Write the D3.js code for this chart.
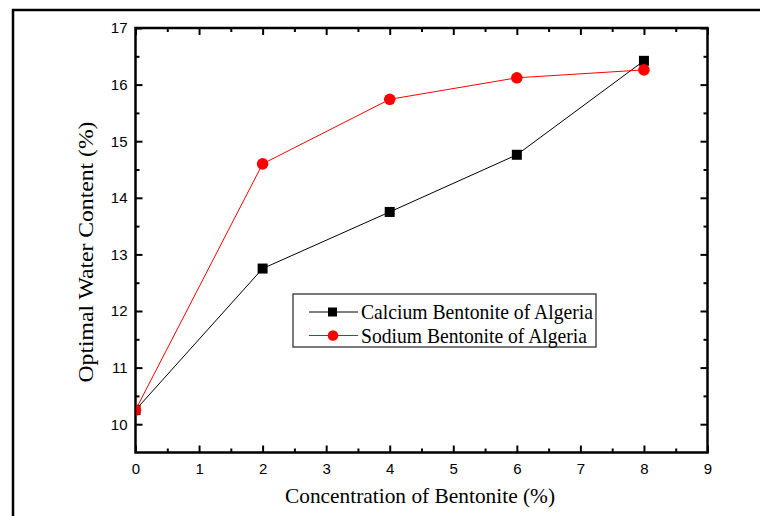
<!DOCTYPE html>
<html>
<head>
<meta charset="utf-8">
<script src="https://cdn.jsdelivr.net/npm/d3@7"></script>
<style>
  body { margin: 0; background: #fff; }
  svg { display: block; }
</style>
</head>
<body>
<svg id="chart" width="760" height="516"></svg>
<script>
// data
var concentration = [0, 2, 4, 6, 8];
var calcium = [10.25, 12.75, 13.75, 14.76, 16.42];
var sodium = [10.25, 14.6, 15.74, 16.12, 16.26];
var seriesNames = ["Calcium Bentonite of Algeria", "Sodium Bentonite of Algeria"];
var xTicks = [0, 1, 2, 3, 4, 5, 6, 7, 8, 9];
var yTicks = [10, 11, 12, 13, 14, 15, 16, 17];

var SANS = "'Liberation Sans', Arial, sans-serif";
var SERIF = "'Liberation Serif', 'Times New Roman', serif";

var svg = d3.select("#chart");

var margin = { top: 28, right: 52.5, bottom: 63.5, left: 135.5 };
var W = 760, H = 516;

var x = d3.scaleLinear().domain([0, 9]).range([margin.left, W - margin.right]);
var y = d3.scaleLinear().domain([9.5, 17]).range([H - margin.bottom, margin.top]);

// outer frame (runs off the right / bottom of the picture)
svg.append("rect")
    .attr("x", 13).attr("y", 10)
    .attr("width", 900).attr("height", 900)
    .attr("fill", "none").attr("stroke", "#000").attr("stroke-width", 2.5);

var minorX = d3.range(0.5, 9, 1);
var minorY = d3.range(10.5, 17, 1);

function styleAxis(g) {
    g.select(".domain").remove();
    g.selectAll(".tick line").attr("stroke", "#000").attr("stroke-width", 2);
    g.selectAll(".tick text")
        .style("font-family", SANS)
        .style("font-size", "15px")
        .style("fill", "#000");
}

// bottom axis
svg.append("g")
    .attr("transform", "translate(0," + y(9.5) + ")")
    .call(d3.axisBottom(x).tickValues(xTicks).tickSize(-7).tickPadding(11).tickFormat(d3.format("d")))
    .call(styleAxis);
svg.append("g")
    .attr("transform", "translate(0," + y(9.5) + ")")
    .call(d3.axisBottom(x).tickValues(minorX).tickSize(-4).tickFormat(""))
    .call(styleAxis);

// left axis
svg.append("g")
    .attr("transform", "translate(" + x(0) + ",0)")
    .call(d3.axisLeft(y).tickValues(yTicks).tickSize(-7).tickPadding(8).tickFormat(d3.format("d")))
    .call(styleAxis);
svg.append("g")
    .attr("transform", "translate(" + x(0) + ",0)")
    .call(d3.axisLeft(y).tickValues(minorY).tickSize(-4).tickFormat(""))
    .call(styleAxis);

// top axis, ticks only
svg.append("g")
    .attr("transform", "translate(0," + y(17) + ")")
    .call(d3.axisTop(x).tickValues(xTicks).tickSize(-7).tickFormat(""))
    .call(styleAxis);
svg.append("g")
    .attr("transform", "translate(0," + y(17) + ")")
    .call(d3.axisTop(x).tickValues(minorX).tickSize(-4).tickFormat(""))
    .call(styleAxis);

// right axis, ticks only
svg.append("g")
    .attr("transform", "translate(" + x(9) + ",0)")
    .call(d3.axisRight(y).tickValues(yTicks).tickSize(-7).tickFormat(""))
    .call(styleAxis);
svg.append("g")
    .attr("transform", "translate(" + x(9) + ",0)")
    .call(d3.axisRight(y).tickValues(minorY).tickSize(-4).tickFormat(""))
    .call(styleAxis);

// plot box
svg.append("rect")
    .attr("x", x(0)).attr("y", y(17))
    .attr("width", x(9) - x(0)).attr("height", y(9.5) - y(17))
    .attr("fill", "none").attr("stroke", "#000").attr("stroke-width", 2.5);

// clip marks to the plot area
svg.append("clipPath").attr("id", "plotClip")
    .append("rect")
    .attr("x", x(0) + 1).attr("y", y(17) + 1)
    .attr("width", x(9) - x(0) - 2).attr("height", y(9.5) - y(17) - 2);

var plot = svg.append("g").attr("clip-path", "url(#plotClip)");

var line = d3.line()
    .x(function (d) { return x(d[0]); })
    .y(function (d) { return y(d[1]); });

var caData = concentration.map(function (c, i) { return [c, calcium[i]]; });
var naData = concentration.map(function (c, i) { return [c, sodium[i]]; });

plot.append("path")
    .attr("d", line(caData))
    .attr("fill", "none").attr("stroke", "#000").attr("stroke-width", 1);
plot.selectAll(".sq")
    .data(caData)
    .enter().append("rect")
    .attr("class", "sq")
    .attr("x", function (d) { return x(d[0]) - 5; })
    .attr("y", function (d) { return y(d[1]) - 5; })
    .attr("width", 10).attr("height", 10)
    .attr("fill", "#000");

plot.append("path")
    .attr("d", line(naData))
    .attr("fill", "none").attr("stroke", "#ff0000").attr("stroke-width", 1);
plot.selectAll(".dot")
    .data(naData)
    .enter().append("circle")
    .attr("class", "dot")
    .attr("cx", function (d) { return x(d[0]); })
    .attr("cy", function (d) { return y(d[1]); })
    .attr("r", 5.8)
    .attr("fill", "#ff0000");

// axis titles
svg.append("text")
    .attr("x", 420).attr("y", 503)
    .attr("text-anchor", "middle")
    .attr("textLength", 270).attr("lengthAdjust", "spacingAndGlyphs")
    .style("font-family", SERIF).style("font-size", "22px").style("fill", "#000")
    .text("Concentration of Bentonite (%)");

svg.append("text")
    .attr("transform", "translate(93,252) rotate(-90)")
    .attr("text-anchor", "middle")
    .attr("textLength", 261).attr("lengthAdjust", "spacingAndGlyphs")
    .style("font-family", SERIF).style("font-size", "22px").style("fill", "#000")
    .text("Optimal Water Content (%)");

// legend
var legend = svg.append("g");
legend.append("rect")
    .attr("x", 293).attr("y", 294)
    .attr("width", 303).attr("height", 53)
    .attr("fill", "#fff").attr("stroke", "#222").attr("stroke-width", 1.2);

var legendRows = [
    { name: seriesNames[0], color: "#000", shape: "square", y: 312, len: 232 },
    { name: seriesNames[1], color: "#ff0000", shape: "circle", y: 335.5, len: 226 }
];
legendRows.forEach(function (r) {
    legend.append("line")
        .attr("x1", 309).attr("x2", 358)
        .attr("y1", r.y).attr("y2", r.y)
        .attr("stroke", r.color).attr("stroke-width", 1);
    if (r.shape === "square") {
        legend.append("rect")
            .attr("x", 328).attr("y", r.y - 4.5)
            .attr("width", 9).attr("height", 9)
            .attr("fill", r.color);
    } else {
        legend.append("circle")
            .attr("cx", 333).attr("cy", r.y).attr("r", 5.3)
            .attr("fill", r.color);
    }
    legend.append("text")
        .attr("x", 361).attr("y", r.y + 7)
        .attr("textLength", r.len).attr("lengthAdjust", "spacingAndGlyphs")
        .style("font-family", SERIF).style("font-size", "21px").style("fill", "#000")
        .text(r.name);
});
</script>
</body>
</html>
